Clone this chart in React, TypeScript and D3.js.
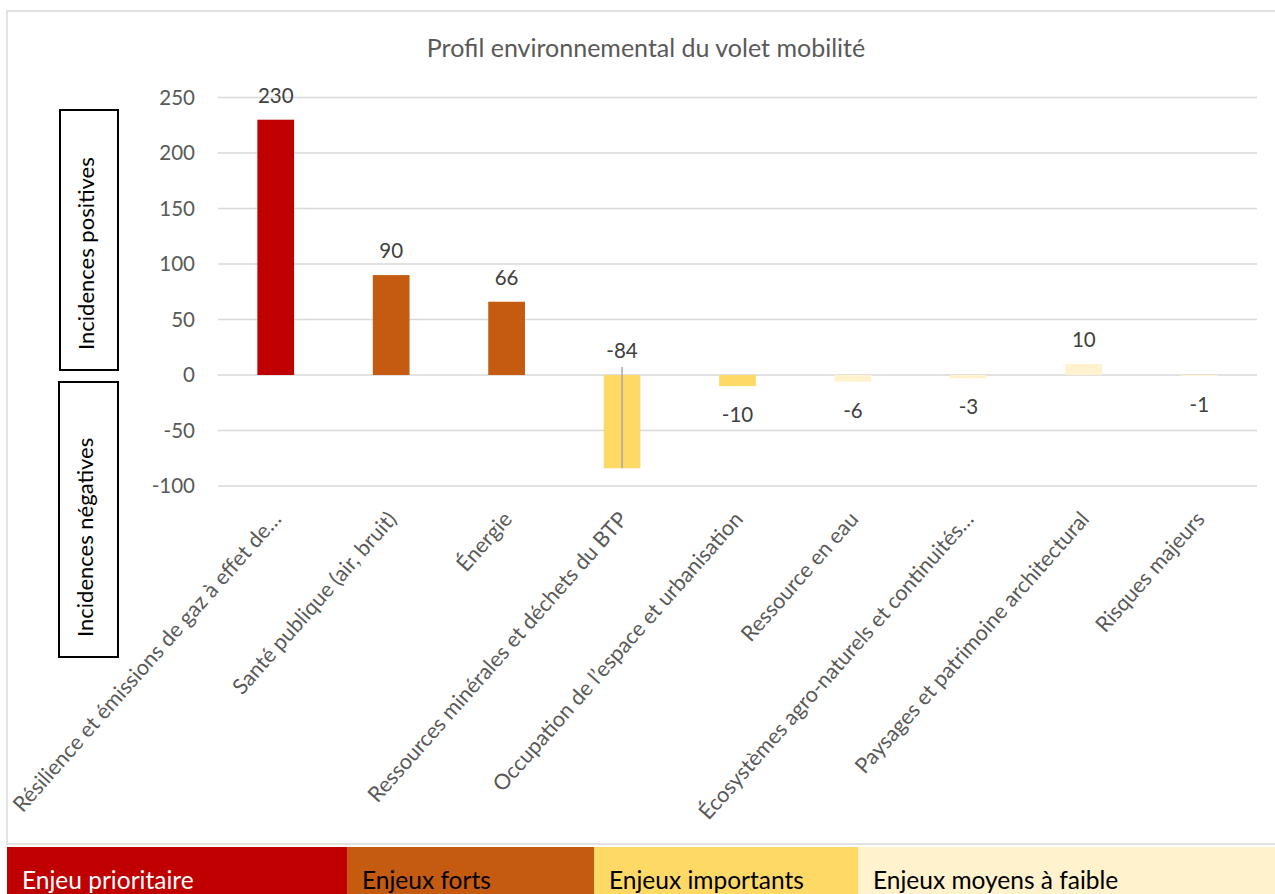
import React from "react";
import * as d3 from "d3";

const categories = [
  "Résilience et émissions de gaz à effet de…",
  "Santé publique (air, bruit)",
  "Énergie",
  "Ressources minérales et déchets du BTP",
  "Occupation de l’espace et urbanisation",
  "Ressource en eau",
  "Écosystèmes agro-naturels et continuités…",
  "Paysages et patrimoine architectural",
  "Risques majeurs",
];
const values = [230, 90, 66, -84, -10, -6, -3, 10, -1];
const levels = [0, 1, 1, 2, 2, 3, 3, 3, 3];
const yTicks = [-100, -50, 0, 50, 100, 150, 200, 250];
const legendLabels = ["Enjeu prioritaire", "Enjeux forts", "Enjeux importants", "Enjeux moyens à faible"];
const levelColors = ["#C00000", "#C55A11", "#FFD966", "#FFF2CC"];
const legendTextColors = ["#ffffff", "#000000", "#000000", "#000000"];
const title = "Profil environnemental du volet mobilité";

const W = 1275;
const H = 894;
const FONT = "Lato, 'Open Sans', sans-serif";

export default function App() {
  const x = d3
    .scaleBand<string>()
    .domain(categories)
    .range([218, 1257])
    .paddingInner(0.682)
    .paddingOuter(0.341);
  const y = d3.scaleLinear().domain([-100, 250]).range([486, 97.5]);
  const legendX = d3.scaleOrdinal<number, number>().domain([0, 1, 2, 3, 4]).range([7, 347, 594, 858, 1275]);

  return (
    <svg
      width={W}
      height={H}
      style={{ position: "absolute", left: 0, top: 0, fontFamily: FONT }}
    >
      <rect x={0} y={0} width={W} height={H} fill="#ffffff" />
      <rect x={7} y={11} width={W + 10} height={833} fill="#ffffff" stroke="#d9d9d9" strokeWidth={1.5} />
      <text x={646} y={57} textAnchor="middle" fontSize={25} fill="#595959">
        {title}
      </text>
      {yTicks.map((t) => (
        <g key={t}>
          <line x1={218} x2={1257} y1={y(t)} y2={y(t)} stroke="#d9d9d9" strokeWidth={1.5} />
          <text x={195} y={y(t)} dy="0.36em" textAnchor="end" fontSize={20.5} fill="#595959">
            {t}
          </text>
        </g>
      ))}
      {categories.map((c, i) => {
        const v = values[i];
        const x0 = x(c)!;
        const y0 = Math.min(y(v), y(0));
        const h = Math.abs(y(v) - y(0));
        return (
          <rect key={c} x={x0} y={y0} width={x.bandwidth()} height={h} fill={levelColors[levels[i]]} />
        );
      })}
      {(() => {
        const c = categories[3];
        const cx = x(c)! + x.bandwidth() / 2;
        return <line x1={cx} x2={cx} y1={367} y2={y(values[3])} stroke="#a6a6a6" strokeWidth={1.5} />;
      })()}
      {categories.map((c, i) => {
        const v = values[i];
        const cx = x(c)! + x.bandwidth() / 2;
        let ly: number;
        if (v >= 0 || v < -50) ly = Math.min(y(v), y(0)) - 17;
        else ly = y(v) + 36;
        return (
          <text key={"l" + c} x={cx} y={ly} textAnchor="middle" fontSize={20.5} fill="#404040">
            {v}
          </text>
        );
      })}
      {categories.map((c, i) => {
        const cx = x(c)! + x.bandwidth() / 2;
        return (
          <text
            key={"c" + c}
            transform={`translate(${cx + 1},${515}) rotate(-48.5)`}
            textAnchor="end"
            dy="0.35em"
            fontSize={21.5}
            fill="#595959"
          >
            {c}
          </text>
        );
      })}
      <rect x={60} y={110} width={58} height={260} fill="none" stroke="#000" strokeWidth={2} />
      <text transform="translate(94,350) rotate(-90)" fontSize={22} fill="#000">
        Incidences positives
      </text>
      <rect x={59} y={382} width={59} height={275} fill="none" stroke="#000" strokeWidth={2} />
      <text transform="translate(93,637) rotate(-90)" fontSize={22} fill="#000">
        Incidences négatives
      </text>
      {legendLabels.map((l, i) => (
        <g key={l}>
          <rect x={legendX(i)} y={847} width={legendX(i + 1) - legendX(i)} height={H - 847} fill={levelColors[i]} />
          <text x={legendX(i) + 15} y={889} fontSize={24.5} fill={legendTextColors[i]}>
            {l}
          </text>
        </g>
      ))}
    </svg>
  );
}
